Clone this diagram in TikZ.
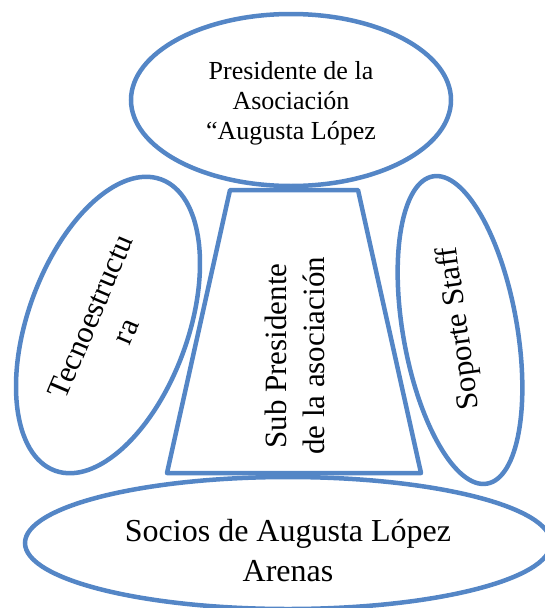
\documentclass[tikz,border=0pt]{standalone}
\usepackage{fontspec}
\setmainfont{Liberation Serif}
\definecolor{azulcaja}{RGB}{84,134,198}
\tikzset{
	contorno/.style={draw=azulcaja, line width=4.5pt},
	texto/.style={align=center, inner sep=0pt}
}

\begin{document}
\begin{tikzpicture}[x=1pt,y=1pt]
	\useasboundingbox (0,0) rectangle (545,-608);
	% textos
	\node[texto, font=\fontsize{26}{30}\selectfont] (pres) at (291,-103) {Presidente de la\\Asociación\\“Augusta López};
	\node[texto, font=\fontsize{31}{38}\selectfont, rotate=90] (sub) at (295,-356) {Sub Presidente\\de la asociación};
	\node[texto, font=\fontsize{31}{38}\selectfont, rotate=67] (tecno) at (108,-324) {Tecnoestructu\\ra};
	\node[texto, font=\fontsize{31}{38}\selectfont, rotate=98] (staff) at (460,-328) {Soporte Staff};
	\node[texto, font=\fontsize{32}{40}\selectfont] (socios) at (288,-551) {Socios de Augusta López\\Arenas};
	
	\draw[contorno] (291,-100) ellipse [x radius=160pt, y radius=86pt];
	\draw[contorno] (108,-325) ellipse [x radius=80pt, y radius=155pt, rotate=-20];
	\draw[contorno] (460,-330) ellipse [x radius=57pt, y radius=156pt, rotate=10];
	\draw[contorno, line join=round] (230,-190) -- (358,-190) -- (421,-473) -- (167,-473) -- cycle;
	\draw[contorno] (288,-543) ellipse [x radius=263pt, y radius=66pt];
\end{tikzpicture}
\end{document}
